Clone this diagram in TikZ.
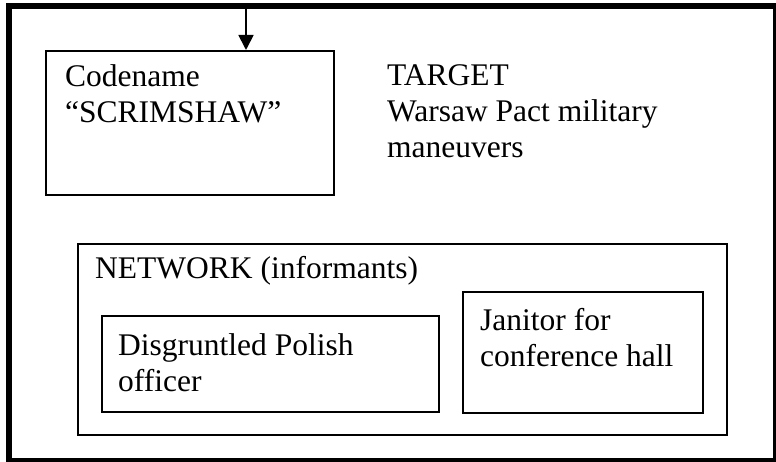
\documentclass[tikz,border=0pt]{standalone}
\usepackage{fontspec}
\setmainfont{Liberation Serif}
\usetikzlibrary{arrows.meta}
\tikzset{
  box/.style={draw=black, line width=1.8pt, anchor=north west, inner sep=0pt},
  outerbox/.style={draw=black, line width=6pt, anchor=north west, inner sep=0pt},
  label/.style={anchor=base west, inner sep=0pt, align=left, font=\fontsize{31.5}{36}\selectfont},
  conn/.style={line width=1.8pt, -{Triangle[length=15pt,width=15pt]}}
}
\begin{document}
\begin{tikzpicture}[x=1pt,y=-1pt]
\useasboundingbox (0,0) rectangle (776,462);
\node[outerbox, minimum width=767pt, minimum height=455pt] (outer) at (6,3) {};
\node[box, minimum width=288pt, minimum height=144pt] (code) at (45,50) {};
\node[box, minimum width=649pt, minimum height=191pt] (network) at (77,243) {};
\node[box, minimum width=337pt, minimum height=96pt] (polish) at (101,315) {};
\node[box, minimum width=240pt, minimum height=121pt] (janitor) at (462,291) {};
\node[label] (codetext) at (65,123) {Codename\\“SCRIMSHAW”};
\node[label] (target) at (387,158) {TARGET\\Warsaw Pact military\\maneuvers};
\node[label] (nettext) at (95,279) {NETWORK (informants)};
\node[label] (polishtext) at (118,391) {Disgruntled Polish\\officer};
\node[label] (janitortext) at (480,366) {Janitor for\\conference hall};
\coordinate (src) at (246,3);
\draw[conn] (src) -- (src |- code.north);
\end{tikzpicture}
\end{document}
